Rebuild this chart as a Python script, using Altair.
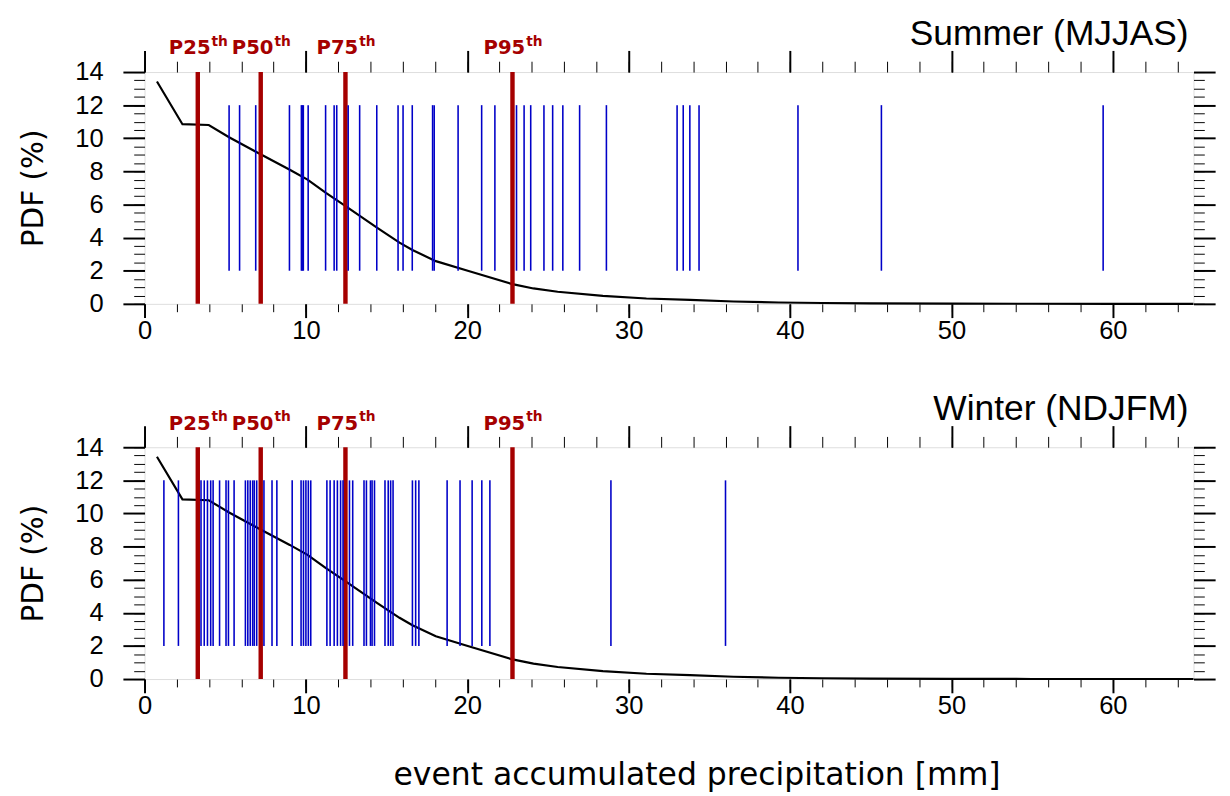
import altair as alt
import pandas as pd

# ---- data ----
pdf_x = [0.77, 2.35, 3.98, 5.24, 6.87, 9.0, 10.1, 11.24, 12.46, 14.4, 15.8, 16.6,
         18.05, 20.08, 22.8, 24.1, 25.6, 28.4, 31.1, 33.8, 36.5, 39.3, 42.0, 45.0,
         50.0, 55.0, 60.0, 65.0]
pdf_y = [13.43, 10.85, 10.8, 10.06, 9.2, 8.1, 7.5, 6.7, 5.9, 4.6, 3.7, 3.25,
         2.58, 1.98, 1.19, 0.93, 0.73, 0.48, 0.32, 0.24, 0.14, 0.08, 0.05, 0.03,
         0.012, 0.005, 0.002, 0.001]

pct_values = [3.3, 7.2, 12.45, 22.8]
pct_labels = ["P25", "P50", "P75", "P95"]
pct_sup = ["th", "th", "th", "th"]

summer_events = [5.24, 5.89, 6.89, 8.98, 9.72, 9.78, 9.84, 10.14, 11.22, 11.75, 11.91,
                 12.62, 13.33, 14.39, 15.71, 16.02, 16.59, 17.85, 17.95, 19.43, 20.89,
                 21.71, 23.05, 23.52, 23.93, 24.75, 25.29, 25.92, 26.96, 28.62, 33.0,
                 33.38, 33.79, 34.36, 40.49, 45.66, 59.4]
winter_events = [1.2, 2.1, 3.5, 3.7, 3.9, 4.1, 4.25, 4.65, 5.05, 5.2, 5.55, 6.25, 6.4,
                 6.55, 6.7, 6.8, 6.95, 7.4, 7.9, 8.2, 9.15, 9.7, 9.85, 10.0, 10.15,
                 10.3, 11.3, 11.5, 11.75, 11.95, 12.15, 12.3, 12.7, 12.9, 13.6, 13.75,
                 14.0, 14.1, 14.25, 14.9, 15.1, 15.25, 15.4, 16.6, 16.8, 17.0, 18.75,
                 19.55, 20.3, 20.9, 21.4, 28.9, 36.0]

panel_titles = ["Summer (MJJAS)", "Winter (NDJFM)"]
x_title = "event accumulated precipitation [mm]"
y_title = "PDF (%)"

X_DOMAIN = [0, 65]
Y_DOMAIN = [0, 14]
EVENT_LO, EVENT_HI = 2, 12

x_major = list(range(0, 61, 10))
x_minor = list(range(0, 65, 2))
y_major = list(range(0, 15, 2))
y_minor = [i * 0.5 for i in range(0, 29)]

W, H = 1068, 236
RED = "#a50000"
BLUE = "#0000c8"

curve_df = pd.DataFrame({"x": pdf_x, "y": pdf_y})
pct_df = pd.DataFrame({"x": pct_values, "label": pct_labels, "sup": pct_sup})

xs = alt.Scale(domain=X_DOMAIN, nice=False, zero=False)
ys = alt.Scale(domain=Y_DOMAIN, nice=False, zero=False)

common = dict(domain=False, grid=False, tickColor="black")


def xaxis(orient, values, size, width, labels=False, title=None):
    kw = dict(common)
    kw.update(orient=orient, values=values, tickSize=size, tickWidth=width,
              labels=labels)
    if labels:
        kw.update(labelFont="Liberation Sans", labelFontSize=26, labelColor="black",
                  labelPadding=0, labelFlush=False)
    if title:
        kw.update(title=title, titleFont="DejaVu Sans", titleFontSize=32,
                  titleFontWeight="normal", titleColor="black", titlePadding=42,
                  titleX=W / 2 + 28)
    else:
        kw.update(title=None)
    return alt.Axis(**kw)


def yaxis(orient, values, size, width, labels=False, title=None):
    kw = dict(common)
    kw.update(orient=orient, values=values, tickSize=size, tickWidth=width,
              labels=labels)
    if labels:
        kw.update(labelFont="Liberation Sans", labelFontSize=26, labelColor="black",
                  labelPadding=20, labelFlush=False)
    if title:
        kw.update(title=title, titleFont="DejaVu Sans", titleFontSize=30,
                  titleFontWeight="normal", titleColor="black", titlePadding=27)
    else:
        kw.update(title=None)
    return alt.Axis(**kw)


def panel(events, title, show_xtitle):
    ev_df = pd.DataFrame({"x": events})

    curve = alt.Chart(curve_df).mark_line(color="black", strokeWidth=2.2).encode(
        x=alt.X("x:Q", scale=xs,
                axis=xaxis("bottom", x_major, 14, 2, labels=True,
                           title=x_title if show_xtitle else None)),
        y=alt.Y("y:Q", scale=ys, axis=yaxis("left", y_major, 22, 2, labels=True,
                                              title=y_title)),
    )
    reds = alt.Chart(pct_df).mark_rule(color=RED, strokeWidth=4.5).encode(
        x=alt.X("x:Q", scale=xs, axis=xaxis("bottom", x_minor, 8, 1)),
        y=alt.Y(datum=Y_DOMAIN[0], scale=ys, axis=yaxis("left", y_minor, 11, 1)),
        y2=alt.datum(Y_DOMAIN[1]),
    )
    blues = alt.Chart(ev_df).mark_rule(color=BLUE, strokeWidth=1.6).encode(
        x=alt.X("x:Q", scale=xs, axis=xaxis("top", x_major, 22, 2)),
        y=alt.Y(datum=EVENT_LO, scale=ys, axis=yaxis("right", y_major, 22, 2)),
        y2=alt.datum(EVENT_HI),
    )
    ghost = alt.Chart(curve_df).mark_line(opacity=0).encode(
        x=alt.X("x:Q", scale=xs, axis=xaxis("top", x_minor, 11, 1)),
        y=alt.Y("y:Q", scale=ys, axis=yaxis("right", y_minor, 11, 1)),
    )
    lab = alt.Chart(pct_df).mark_text(
        font="DejaVu Sans", fontWeight="bold", fontSize=20, color=RED,
        align="right", baseline="alphabetic", dx=13
    ).encode(x=alt.X("x:Q", scale=xs, axis=None), y=alt.value(-18), text="label:N")
    sup = alt.Chart(pct_df).mark_text(
        font="DejaVu Sans", fontWeight="bold", fontSize=14, color=RED,
        align="left", baseline="alphabetic", dx=14
    ).encode(x=alt.X("x:Q", scale=xs, axis=None), y=alt.value(-27), text="sup:N")
    ttl = alt.Chart(pd.DataFrame({"t": [title]})).mark_text(
        font="Liberation Sans", fontSize=36, color="black", align="right",
        baseline="alphabetic"
    ).encode(x=alt.value(W - 5), y=alt.value(-28), text="t:N")

    return alt.layer(curve, reds, blues, ghost, lab, sup, ttl).resolve_axis(
        x="independent", y="independent"
    ).properties(width=W, height=H)


top = panel(summer_events, panel_titles[0], False)
bottom = panel(winter_events, panel_titles[1], True)

chart = alt.vconcat(top, bottom, spacing=47).configure_view(
    stroke="black", strokeWidth=2
).configure(background="white", padding={"left": 10, "top": 0, "right": 5, "bottom": 5})

chart.save("out.html", embed_options={"renderer": "svg", "actions": False})
